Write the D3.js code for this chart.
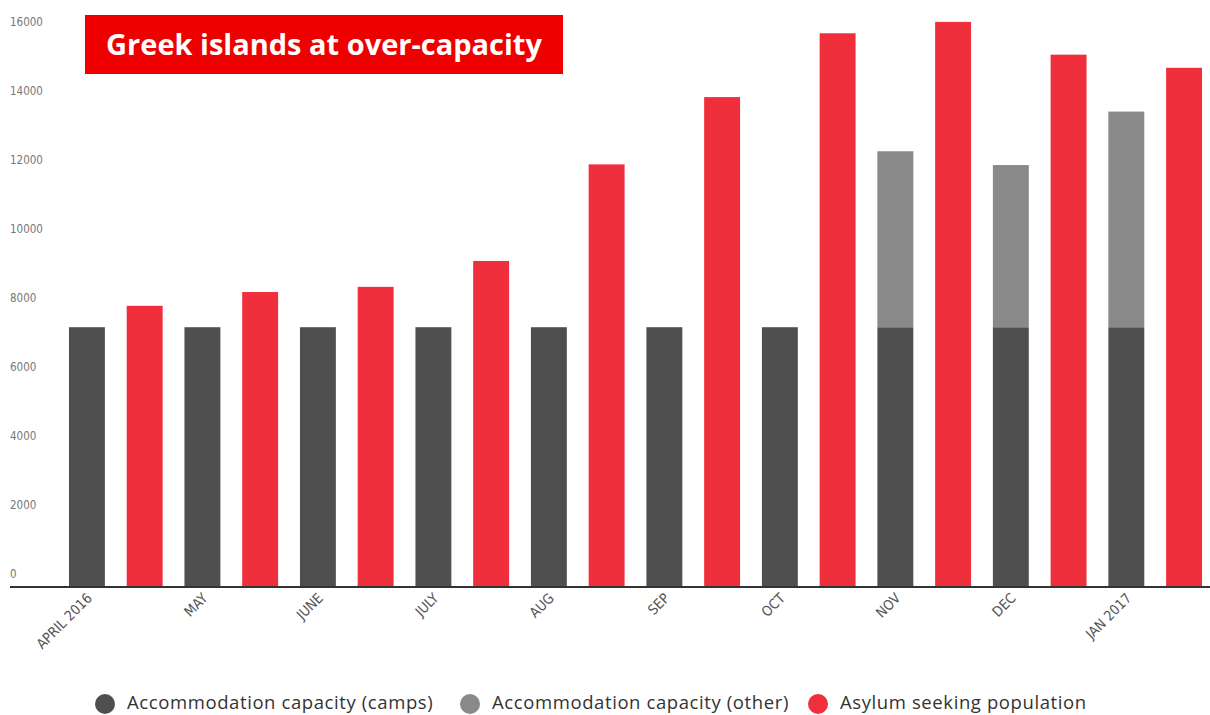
<html>
<head>
  <meta charset="UTF-8">
  <title>Greek islands at over-capacity</title>
  <script src="https://cdn.jsdelivr.net/npm/d3@7"></script>
  <style>
    body { margin: 0; background: #fff; }
  </style>
</head>
<body>
<svg width="1210" height="715"></svg>
<script>
var months = ["APRIL 2016", "MAY", "JUNE", "JULY", "AUG", "SEP", "OCT", "NOV", "DEC", "JAN 2017"];
var campsCapacity = [7530, 7530, 7530, 7530, 7530, 7530, 7530, 7530, 7530, 7530];
var otherCapacity = [0, 0, 0, 0, 0, 0, 0, 5100, 4700, 6250];
var asylumPopulation = [8150, 8550, 8700, 9450, 12250, 14200, 16050, 16380, 15430, 15050];
var yTicks = [0, 2000, 4000, 6000, 8000, 10000, 12000, 14000, 16000];
var seriesNames = ["Accommodation capacity (camps)", "Accommodation capacity (other)", "Asylum seeking population"];
var seriesColors = ["#4f4f4f", "#898989", "#ef2f3c"];

var svg = d3.select("svg");
var baseY = 587;

var y = d3.scaleLinear().domain([0, 16000]).range([baseY, 35]);

// two bars per month: capacity stack, then population
var slots = [];
months.forEach(function(m) { slots.push(m + "|cap"); slots.push(m + "|pop"); });
var x = d3.scaleBand().domain(slots).range([69 - 11, 1202 + 11]).paddingInner(0.378).paddingOuter(0.19);

// capacity: camps (bottom) + other (top)
months.forEach(function(m, i) {
  svg.append("rect")
    .attr("x", x(m + "|cap"))
    .attr("y", y(campsCapacity[i]))
    .attr("width", x.bandwidth())
    .attr("height", baseY - y(campsCapacity[i]))
    .attr("fill", seriesColors[0]);
  if (otherCapacity[i] > 0) {
    svg.append("rect")
      .attr("x", x(m + "|cap"))
      .attr("y", y(campsCapacity[i] + otherCapacity[i]))
      .attr("width", x.bandwidth())
      .attr("height", y(campsCapacity[i]) - y(campsCapacity[i] + otherCapacity[i]))
      .attr("fill", seriesColors[1]);
  }
  svg.append("rect")
    .attr("x", x(m + "|pop"))
    .attr("y", y(asylumPopulation[i]))
    .attr("width", x.bandwidth())
    .attr("height", baseY - y(asylumPopulation[i]))
    .attr("fill", seriesColors[2]);
});

// baseline
svg.append("line")
  .attr("x1", 10).attr("x2", 1210)
  .attr("y1", baseY).attr("y2", baseY)
  .attr("stroke", "#333").attr("stroke-width", 2);

// y labels (sit a bit above their value)
svg.selectAll(".ylab").data(yTicks).enter().append("text")
  .attr("class", "ylab")
  .attr("x", 10)
  .attr("y", function(d) { return y(d) - 9; })
  .attr("font-family", "DejaVu Sans Condensed")
  .attr("font-size", 11.5)
  .attr("fill", "#777")
  .text(function(d) { return d; });

// x labels, rotated
svg.selectAll(".xlab").data(months).enter().append("text")
  .attr("class", "xlab")
  .attr("transform", function(d) {
    return "translate(" + (x(d + "|cap") + x.bandwidth() / 2 + 6) + "," + (baseY + 12) + ") rotate(-45)";
  })
  .attr("text-anchor", "end")
  .attr("font-family", "DejaVu Sans Condensed")
  .attr("font-size", 14)
  .attr("fill", "#555")
  .text(function(d) { return d; });

// title box
svg.append("rect")
  .attr("x", 85).attr("y", 15).attr("width", 478).attr("height", 59)
  .attr("fill", "#ee0000");
svg.append("text")
  .attr("x", 324).attr("y", 55)
  .attr("text-anchor", "middle")
  .attr("font-family", "Open Sans")
  .attr("font-weight", "bold")
  .attr("font-size", 29)
  .attr("fill", "#fff")
  .text("Greek islands at over-capacity");

// legend
var legendX = [105, 470, 818];
seriesNames.forEach(function(name, i) {
  svg.append("circle")
    .attr("cx", legendX[i]).attr("cy", 704).attr("r", 10)
    .attr("fill", seriesColors[i]);
  svg.append("text")
    .attr("x", legendX[i] + 22).attr("y", 709)
    .attr("font-family", "Open Sans")
    .attr("font-size", 18.5)
    .attr("letter-spacing", 0.6)
    .attr("fill", "#333")
    .text(name);
});
</script>
</body>
</html>
